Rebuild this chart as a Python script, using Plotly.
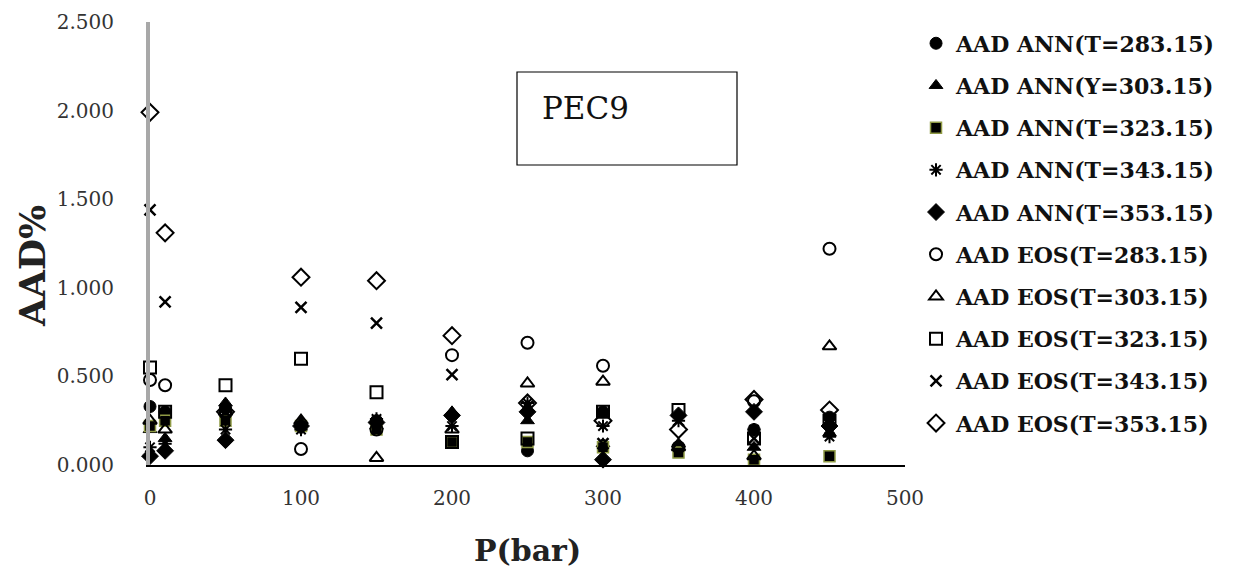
import plotly.graph_objects as go

P = [0, 10, 50, 100, 150, 200, 250, 300, 350, 400, 450]

ann_283 = [0.33, 0.30, 0.32, 0.22, 0.25, 0.28, 0.08, 0.30, 0.10, 0.20, 0.27]
ann_303 = [0.20, 0.15, 0.35, 0.25, 0.22, 0.30, 0.25, 0.12, 0.12, 0.10, 0.18]
ann_323 = [0.22, 0.25, 0.25, 0.22, 0.20, 0.13, 0.13, 0.10, 0.07, 0.03, 0.05]
ann_343 = [0.10, 0.12, 0.20, 0.20, 0.26, 0.22, 0.35, 0.22, 0.25, 0.20, 0.16]
ann_353 = [0.05, 0.08, 0.14, 0.22, 0.24, 0.28, 0.30, 0.03, 0.28, 0.30, 0.22]
eos_283 = [0.48, 0.45, 0.30, 0.09, 0.20, 0.62, 0.69, 0.56, 0.10, 0.36, 1.22]
eos_303 = [0.25, 0.20, 0.30, 0.25, 0.04, 0.20, 0.46, 0.47, 0.10, 0.05, 0.67]
eos_323 = [0.55, 0.30, 0.45, 0.60, 0.41, 0.13, 0.15, 0.30, 0.31, 0.15, 0.25]
eos_343 = [1.44, 0.92, 0.30, 0.89, 0.80, 0.51, 0.33, 0.12, 0.25, 0.15, 0.20]
eos_353 = [1.99, 1.31, 0.30, 1.06, 1.04, 0.73, 0.35, 0.25, 0.20, 0.37, 0.31]

names = ["AAD ANN(T=283.15)", "AAD ANN(Y=303.15)", "AAD ANN(T=323.15)",
         "AAD ANN(T=343.15)", "AAD ANN(T=353.15)", "AAD EOS(T=283.15)",
         "AAD EOS(T=303.15)", "AAD EOS(T=323.15)", "AAD EOS(T=343.15)",
         "AAD EOS(T=353.15)"]
series = [ann_283, ann_303, ann_323, ann_343, ann_353,
          eos_283, eos_303, eos_323, eos_343, eos_353]

styles = [
    dict(symbol="circle", size=12, color="black", line=dict(color="black", width=1)),
    dict(symbol="triangle-up", size=12, color="black", line=dict(color="black", width=1)),
    dict(symbol="square", size=11, color="black", line=dict(color="#8f9a45", width=1.5)),
    dict(symbol="asterisk-open", size=11, color="black", line=dict(color="black", width=2)),
    dict(symbol="diamond", size=13, color="black", line=dict(color="black", width=1)),
    dict(symbol="circle-open", size=12, color="black", line=dict(color="black", width=2)),
    dict(symbol="triangle-up-open", size=12, color="black", line=dict(color="black", width=2)),
    dict(symbol="square-open", size=12, color="black", line=dict(color="black", width=2)),
    dict(symbol="x-thin-open", size=11, color="black", line=dict(color="black", width=2.5)),
    dict(symbol="diamond-open", size=13, color="black", line=dict(color="black", width=2)),
]

fig = go.Figure()
for i, (nm, ys, st) in enumerate(zip(names, series, styles)):
    fig.add_trace(go.Scatter(
        x=P, y=ys, mode="markers", name=nm, marker=st,
        legendgroup=f"g{i}", cliponaxis=False,
    ))

serif = "DejaVu Serif, serif"

fig.update_layout(
    width=1228, height=560,
    margin=dict(l=142, r=331, t=14, b=103, autoexpand=False),
    paper_bgcolor="white", plot_bgcolor="white",
    showlegend=True,
    legend=dict(
        x=1.0146, y=0.999, xanchor="left", yanchor="top",
        font=dict(family=serif, size=22, color="#111", weight="bold"),
        tracegroupgap=10.6, itemwidth=30, bgcolor="rgba(0,0,0,0)",
        maxheight=555,
    ),
    xaxis=dict(
        range=[0, 500], tickvals=[0, 100, 200, 300, 400, 500],
        showgrid=False, zeroline=False, showline=True, automargin=False,
        linecolor="black", linewidth=2,
        tickfont=dict(family=serif, size=20, color="#333"),
        ticks="", ticklabelstandoff=14,
        title=dict(text="P(bar)", font=dict(family=serif, size=30, color="#222", weight="bold"), standoff=34),
    ),
    yaxis=dict(
        range=[0, 2.5], tickvals=[0, 0.5, 1.0, 1.5, 2.0, 2.5],
        ticktext=["0.000", "0.500", "1.000", "1.500", "2.000", "2.500"],
        showgrid=False, zeroline=False, showline=True, automargin=False,
        linecolor="#a8a8a8", linewidth=4,
        tickfont=dict(family=serif, size=20, color="#333"),
        ticks="", ticklabelstandoff=28,
    ),
    shapes=[dict(type="rect", xref="paper", yref="paper",
                 x0=(517 - 150) / 755, x1=(737 - 150) / 755,
                 y0=(465 - 165) / 443, y1=(465 - 72) / 443,
                 line=dict(color="black", width=1.2), fillcolor="white", layer="below")],
    annotations=[
        dict(text="PEC9", xref="paper", yref="paper",
             x=(540 - 150) / 755, y=(465 - 108) / 443,
             xanchor="left", yanchor="middle", showarrow=False,
             font=dict(family=serif, size=31, color="#111")),
        dict(text="AAD%", xref="paper", yref="paper",
             x=(32 - 150) / 755, y=(465 - 266) / 443, textangle=-90,
             xanchor="center", yanchor="middle", showarrow=False,
             font=dict(family=serif, size=36, color="#222", weight="bold")),
    ],
)

fig.write_html("out.html")
